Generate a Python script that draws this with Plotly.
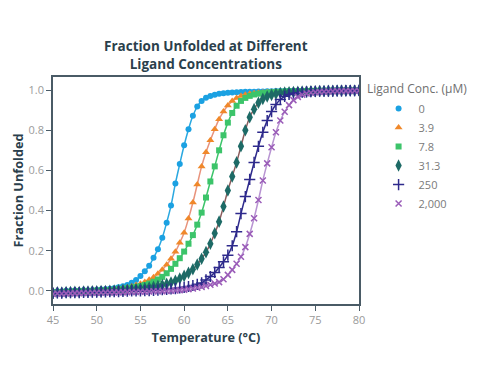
import plotly.graph_objects as go

temperature = [45.0, 45.5, 46.0, 46.5, 47.0, 47.5, 48.0, 48.5, 49.0, 49.5,
               50.0, 50.5, 51.0, 51.5, 52.0, 52.5, 53.0, 53.5, 54.0, 54.5,
               55.0, 55.5, 56.0, 56.5, 57.0, 57.5, 58.0, 58.5, 59.0, 59.5,
               60.0, 60.5, 61.0, 61.5, 62.0, 62.5, 63.0, 63.5, 64.0, 64.5,
               65.0, 65.5, 66.0, 66.5, 67.0, 67.5, 68.0, 68.5, 69.0, 69.5,
               70.0, 70.5, 71.0, 71.5, 72.0, 72.5, 73.0, 73.5, 74.0, 74.5,
               75.0, 75.5, 76.0, 76.5, 77.0, 77.5, 78.0, 78.5, 79.0, 79.5,
               80.0]

conc_labels = ["0", "3.9", "7.8", "31.3", "250", "2,000"]

frac_0 = [-0.006, -0.002, -0.004, 0.001, -0.001, 0.002, 0.000, 0.003, 0.002, 0.004,
          0.005, 0.007, 0.009, 0.011, 0.014, 0.018, 0.023, 0.030, 0.041, 0.055,
          0.075, 0.098, 0.125, 0.165, 0.208, 0.265, 0.340, 0.425, 0.535, 0.632,
          0.725, 0.805, 0.872, 0.918, 0.946, 0.962, 0.971, 0.977, 0.981, 0.984,
          0.986, 0.988, 0.989, 0.990, 0.991, 0.992, 0.992, 0.993, 0.993, 0.994,
          0.994, 0.995, 0.995, 0.995, 0.996, 0.996, 0.996, 0.997, 0.997, 0.997,
          0.997, 0.998, 0.998, 0.998, 0.998, 0.998, 0.999, 0.999, 0.999, 0.999,
          0.999]

frac_3_9 = [-0.008, -0.004, -0.006, -0.002, -0.003, 0.000, -0.001, 0.001, 0.000, 0.002,
            0.003, 0.004, 0.006, 0.008, 0.010, 0.012, 0.015, 0.019, 0.023, 0.029,
            0.036, 0.045, 0.056, 0.068, 0.085, 0.105, 0.130, 0.160, 0.195, 0.240,
            0.290, 0.360, 0.440, 0.530, 0.620, 0.690, 0.750, 0.805, 0.855, 0.893,
            0.923, 0.945, 0.960, 0.970, 0.977, 0.981, 0.984, 0.986, 0.988, 0.989,
            0.990, 0.991, 0.992, 0.993, 0.993, 0.994, 0.994, 0.995, 0.995, 0.996,
            0.996, 0.996, 0.997, 0.997, 0.997, 0.998, 0.998, 0.998, 0.998, 0.999,
            0.999]

frac_7_8 = [-0.009, -0.006, -0.007, -0.004, -0.005, -0.002, -0.003, -0.001, -0.002, 0.000,
            0.001, 0.002, 0.003, 0.004, 0.006, 0.008, 0.010, 0.013, 0.016, 0.020,
            0.024, 0.030, 0.037, 0.046, 0.057, 0.070, 0.088, 0.110, 0.135, 0.163,
            0.196, 0.235, 0.278, 0.330, 0.390, 0.465, 0.545, 0.620, 0.700, 0.775,
            0.838, 0.886, 0.922, 0.946, 0.961, 0.971, 0.978, 0.982, 0.985, 0.987,
            0.989, 0.990, 0.991, 0.992, 0.993, 0.993, 0.994, 0.994, 0.995, 0.995,
            0.996, 0.996, 0.996, 0.997, 0.997, 0.997, 0.998, 0.998, 0.998, 0.998,
            0.999]

frac_31_3 = [-0.010, -0.007, -0.008, -0.006, -0.006, -0.004, -0.005, -0.003, -0.003, -0.002,
             -0.002, -0.001, 0.000, 0.001, 0.002, 0.003, 0.004, 0.006, 0.008, 0.010,
             0.012, 0.014, 0.017, 0.020, 0.024, 0.029, 0.035, 0.042, 0.051, 0.062,
             0.075, 0.090, 0.108, 0.132, 0.160, 0.193, 0.235, 0.287, 0.345, 0.420,
             0.500, 0.570, 0.640, 0.720, 0.800, 0.865, 0.905, 0.937, 0.956, 0.968,
             0.976, 0.981, 0.985, 0.987, 0.989, 0.990, 0.991, 0.992, 0.993, 0.994,
             0.994, 0.995, 0.995, 0.996, 0.996, 0.997, 0.997, 0.997, 0.998, 0.998,
             0.998]

frac_250 = [-0.012, -0.010, -0.011, -0.009, -0.009, -0.008, -0.008, -0.007, -0.007, -0.006,
            -0.006, -0.005, -0.005, -0.004, -0.003, -0.003, -0.002, -0.001, 0.000, 0.000,
            0.000, 0.001, 0.002, 0.003, 0.004, 0.006, 0.008, 0.010, 0.012, 0.015,
            0.018, 0.022, 0.027, 0.033, 0.040, 0.055, 0.072, 0.092, 0.117, 0.145,
            0.178, 0.225, 0.295, 0.385, 0.470, 0.555, 0.640, 0.720, 0.790, 0.848,
            0.893, 0.928, 0.953, 0.969, 0.978, 0.984, 0.987, 0.989, 0.991, 0.992,
            0.993, 0.994, 0.994, 0.995, 0.995, 0.996, 0.996, 0.997, 0.997, 0.997,
            0.998]

frac_2000 = [-0.015, -0.013, -0.014, -0.012, -0.012, -0.011, -0.011, -0.010, -0.010, -0.009,
             -0.009, -0.009, -0.008, -0.008, -0.007, -0.007, -0.006, -0.006, -0.005, -0.005,
             -0.004, -0.004, -0.003, -0.002, -0.002, -0.001, 0.000, 0.001, 0.002, 0.004,
             0.006, 0.009, 0.012, 0.016, 0.020, 0.025, 0.031, 0.037, 0.044, 0.058,
             0.080, 0.105, 0.135, 0.170, 0.218, 0.284, 0.362, 0.453, 0.550, 0.635,
             0.715, 0.790, 0.848, 0.892, 0.925, 0.950, 0.966, 0.977, 0.983, 0.987,
             0.989, 0.991, 0.992, 0.993, 0.994, 0.995, 0.995, 0.996, 0.996, 0.997,
             0.997]

series = [frac_0, frac_3_9, frac_7_8, frac_31_3, frac_250, frac_2000]
marker_colors = ["#1ba1e2", "#f0882a", "#3cc46a", "#1d6a66", "#2e2a8c", "#9a5cb8"]
line_colors = ["#2aa8e0", "#e8937c", "#3cc46a", "#8a5c5c", "#2e2a8c", "#b894d2"]
symbols = ["circle", "triangle-up", "square", "diamond-tall", "cross-thin", "x-thin"]
sizes = [6, 7, 6, 9, 8, 6]

FONT = "Open Sans"
DARK = "#2b3f4c"
GREY = "#9a9a9a"
AXIS = "#4a5b66"

fig = go.Figure()
for vals, lc in zip(series, line_colors):
    fig.add_trace(go.Scatter(x=temperature, y=vals, mode="lines",
                             line=dict(color=lc, width=1.5, shape="spline"),
                             showlegend=False, hoverinfo="skip"))
for vals, name, mc, sym, sz in zip(series, conc_labels, marker_colors, symbols, sizes):
    mline = dict(width=1.5, color=mc) if "thin" in sym else dict(width=0)
    fig.add_trace(go.Scatter(x=temperature, y=vals, mode="markers", name=name,
                             marker=dict(color=mc, symbol=sym, size=sz, line=mline)))

fig.update_layout(
    width=473, height=380,
    margin=dict(l=45, r=122, t=69, b=84),
    paper_bgcolor="white", plot_bgcolor="white",
    font=dict(family=FONT, color=GREY, size=11),
    legend=dict(x=1.064, xanchor="left", y=0.925, yanchor="top",
                font=dict(family=FONT, size=11, color="#7a7a7a"),
                bgcolor="rgba(0,0,0,0)", itemwidth=30),
    showlegend=True,
)
fig.add_annotation(text="<b>Fraction Unfolded at Different<br>Ligand Concentrations</b>",
                   xref="paper", yref="paper", x=0.5, y=1.095,
                   xanchor="center", yanchor="middle", showarrow=False, align="center",
                   font=dict(family=FONT, size=13.5, color=DARK))
fig.add_annotation(text="Ligand Conc. (μM)", xref="paper", yref="paper",
                   x=1.0196, y=0.9515, xanchor="left", yanchor="middle", showarrow=False,
                   font=dict(family=FONT, size=12, color="#6f6f6f"))

fig.update_xaxes(range=[45, 80], tickvals=[45, 50, 55, 60, 65, 70, 75, 80],
                 showgrid=False, zeroline=False, showline=True, linecolor=AXIS,
                 linewidth=1.5, mirror=True, ticks="outside", ticklen=5, tickcolor=AXIS,
                 automargin=False,
                 tickfont=dict(family=FONT, size=11, color=GREY),
                 title=dict(text="<b>Temperature (°C)</b>", standoff=7,
                            font=dict(family=FONT, size=12.7, color=DARK)))
fig.update_yaxes(range=[-0.065, 1.065], tickvals=[0, 0.2, 0.4, 0.6, 0.8, 1.0],
                 tickformat=".1f",
                 showgrid=False, zeroline=False, showline=True, linecolor=AXIS,
                 linewidth=1.5, mirror=True, ticks="outside", ticklen=5, tickcolor=AXIS,
                 automargin=False,
                 tickfont=dict(family=FONT, size=11, color=GREY),
                 title=dict(text="<b>Fraction Unfolded</b>", standoff=2,
                            font=dict(family=FONT, size=12.7, color=DARK)))

fig.write_html("out.html")
